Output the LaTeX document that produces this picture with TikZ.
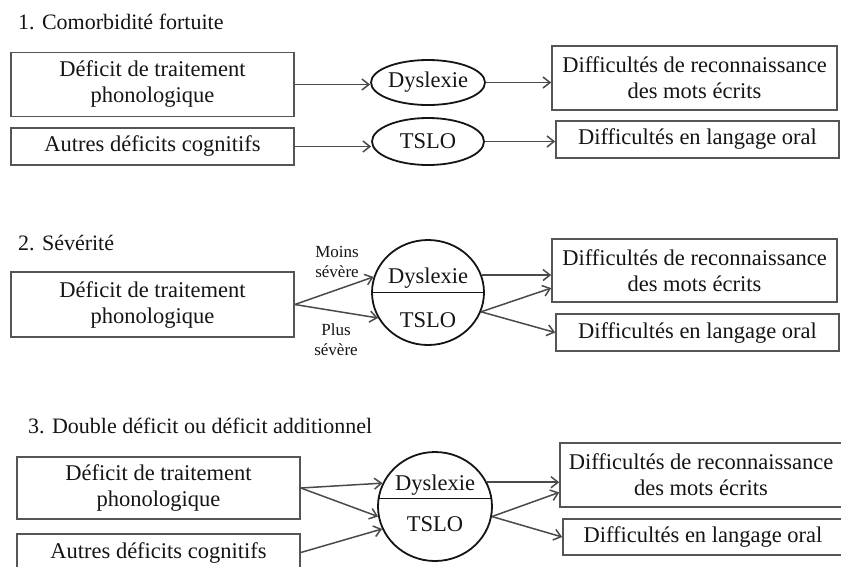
\documentclass[tikz,border=0pt]{standalone}
\usepackage{fontspec}
\setmainfont{Liberation Serif}
\usetikzlibrary{arrows.meta,shapes.geometric}
\definecolor{boxgray}{HTML}{555555}
\definecolor{inkc}{HTML}{151515}
\definecolor{arrgray}{HTML}{4A4A4A}
\tikzset{
  box/.style={draw=boxgray, line width=1.6pt, inner sep=0pt, align=center, text=inkc,
    font=\fontsize{22.5}{26}\selectfont},
  ell/.style={ellipse, draw=inkc, line width=1.8pt, inner sep=0pt, text=inkc,
    font=\fontsize{22.5}{26}\selectfont},
  ctext/.style={text=inkc, font=\fontsize{22.5}{26}\selectfont, inner sep=0pt, anchor=base},
  titletext/.style={text=inkc, font=\fontsize{22}{26}\selectfont, inner sep=0pt, anchor=base west},
  smalllabel/.style={text=inkc, font=\fontsize{17}{20}\selectfont, align=center, inner sep=0pt},
  arr/.style={draw=arrgray, line width=1.5pt, -{Straight Barb[length=7pt,width=11pt]}},
  divider/.style={draw=inkc, line width=1.4pt},
}
\begin{document}
\begin{tikzpicture}[x=1pt,y=-1pt]
\useasboundingbox[fill=white] (0,0) rectangle (841,566);

% ---------- 1. Comorbidité fortuite ----------
\node[titletext] (t1) at (18,29) {1. Comorbidité fortuite};
\node[box, minimum width=283pt, minimum height=64pt] (a1) at (152.5,84.5) {Déficit de traitement\\phonologique};
\node[box, minimum width=283pt, minimum height=37pt] (b1) at (152.5,146.5) {Autres déficits cognitifs};
\node[ell, minimum width=114pt, minimum height=45pt] (e1d) at (428,82.5) {Dyslexie};
\node[ell, minimum width=112pt, minimum height=47pt] (e1t) at (428,141.5) {TSLO};
\node[box, minimum width=285pt, minimum height=64pt] (c1) at (694.5,78) {Difficultés de reconnaissance\\des mots écrits};
\node[box, minimum width=283pt, minimum height=37pt] (d1) at (697.5,139.5) {Difficultés en langage oral};
\draw[arr] (a1.east) -- (a1.east -| e1d.west);
\draw[arr] (b1.east) -- (b1.east -| e1t.west);
\draw[arr] (e1d.east) -- (e1d.east -| c1.west);
\draw[arr] (e1t.east) -- (e1t.east -| d1.west);

% ---------- 2. Sévérité ----------
\node[titletext] (t2) at (18,250) {2. Sévérité};
\node[box, minimum width=283pt, minimum height=65pt] (a2) at (152.5,304.5) {Déficit de traitement\\phonologique};
\node[ell, minimum width=112pt, minimum height=105pt] (c2) at (428,292.5) {};
\draw[divider] (c2.west) -- (c2.east);
\node[ctext] (c2d) at (428,283) {Dyslexie};
\node[ctext] (c2t) at (428,327) {TSLO};
\node[box, minimum width=285pt, minimum height=63pt] (cb2) at (694.5,270.5) {Difficultés de reconnaissance\\des mots écrits};
\node[box, minimum width=283pt, minimum height=37pt] (d2) at (697.5,332.5) {Difficultés en langage oral};
\node[smalllabel] (m2) at (337,262) {Moins\\sévère};
\node[smalllabel] (p2) at (336,340) {Plus\\sévère};
\draw[arr] (a2.east) -- (c2.164);
\draw[arr] (a2.east) -- (c2.207);
\draw[arr] (c2.18) -- (c2.18 -| cb2.west);
\draw[arr] (c2.-20) -- (cb2.187);
\draw[arr] (c2.-20) -- (d2.west);

% ---------- 3. Double déficit ----------
\node[titletext] (t3) at (28,433) {3. Double déficit ou déficit additionnel};
\node[box, minimum width=283pt, minimum height=62pt] (a3) at (158.5,488) {Déficit de traitement\\phonologique};
\node[box, minimum width=283pt, minimum height=37pt] (b3) at (158.5,552.5) {Autres déficits cognitifs};
\node[ell, minimum width=114pt, minimum height=109pt] (c3) at (435,506.5) {};
\draw[divider] (c3.172) -- (c3.8);
\node[ctext] (c3d) at (435,490) {Dyslexie};
\node[ctext] (c3t) at (435,531) {TSLO};
\node[box, minimum width=282pt, minimum height=64pt] (cb3) at (701,475) {Difficultés de reconnaissance\\des mots écrits};
\node[box, minimum width=280pt, minimum height=36pt] (d3) at (703,537) {Difficultés en langage oral};
\draw[arr] (a3.east) -- (c3.156);
\draw[arr] (a3.east) -- (c3.190);
\draw[arr] (b3.east) -- (c3.203);
\draw[arr] (c3.25) -- (c3.25 -| cb3.west);
\draw[arr] (c3.-10) -- (cb3.187);
\draw[arr] (c3.-10) -- (d3.west);
\end{tikzpicture}
\end{document}
